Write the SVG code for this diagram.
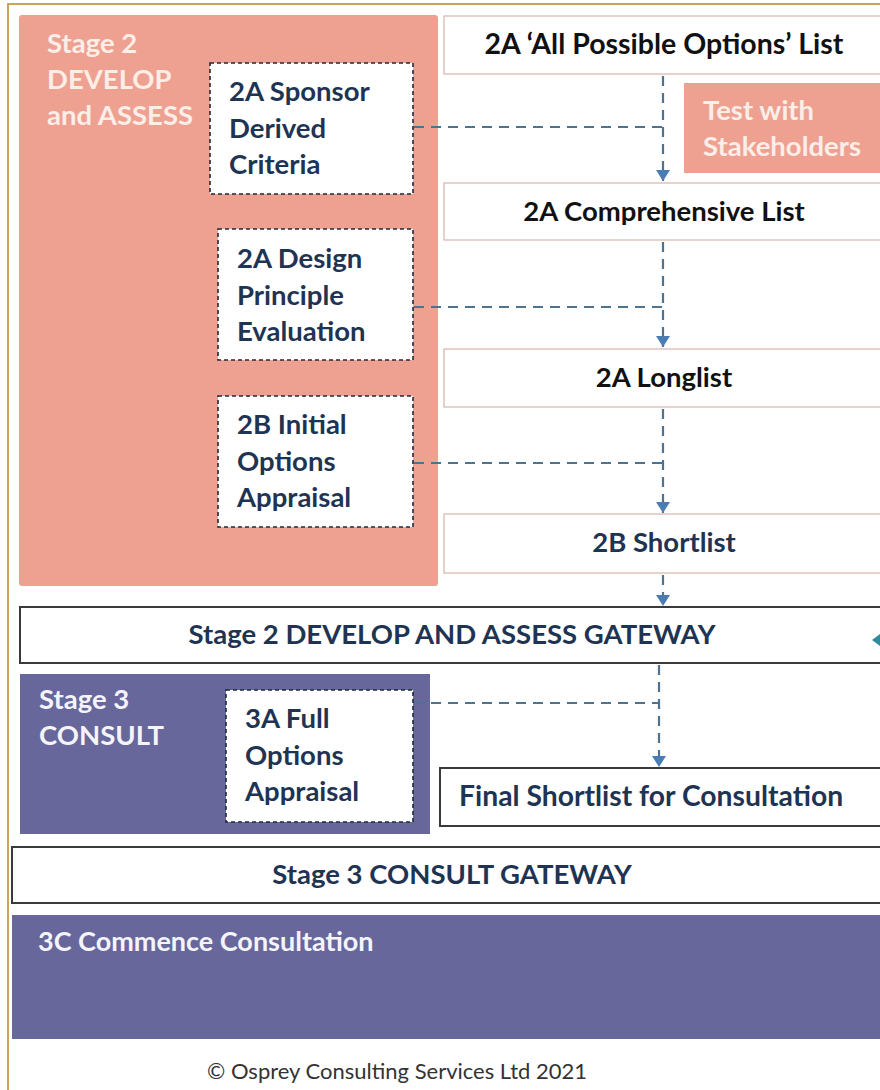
<svg xmlns="http://www.w3.org/2000/svg" width="880" height="1090" viewBox="0 0 880 1090">
<style>
.bg{fill:#ffffff}
.frame{fill:none;stroke:#C9A45A;stroke-width:2}
.salmon{fill:#EEA191}
.purple{fill:#67679B}
.dbox{fill:#ffffff;stroke:#1E2A3A;stroke-width:1.6;stroke-dasharray:4 3}
.list{fill:#ffffff;stroke:#D8B4AC;stroke-width:1.2}
.gate{fill:#ffffff;stroke:#3A3A3A;stroke-width:2}
.t{font-family:Lato,"Liberation Sans",sans-serif;font-weight:bold;font-size:27.5px}
.w{fill:#FBEDE8}
.wp{fill:#F4F4FA}
.n{fill:#1F3452}
.k{fill:#111111}
.c{text-anchor:middle}
.conn{fill:none;stroke:#4E7391;stroke-width:2.2;stroke-dasharray:10 7}
.head{fill:#4A7DB4}
</style>
<defs>
<marker id="arr" viewBox="0 0 11 14" refX="11" refY="7" markerWidth="11" markerHeight="14" markerUnits="userSpaceOnUse" orient="auto">
<path d="M0,0 L11,7 L0,14 Z" class="head"/>
</marker>
</defs>
<rect class="bg" x="0" y="0" width="880" height="1090"/>
<path class="frame" d="M8,1090 L8,4 L880,4"/>

<g id="stage2">
<rect class="salmon" x="19" y="15" width="419" height="571" rx="3"/>
<text class="t w" x="47" y="53">Stage 2</text>
<text class="t w" x="47" y="89">DEVELOP</text>
<text class="t w" x="47" y="125">and ASSESS</text>
</g>

<g id="sponsor">
<rect class="dbox" x="210" y="63" width="203" height="131"/>
<text class="t n" x="229" y="101">2A Sponsor</text>
<text class="t n" x="229" y="138">Derived</text>
<text class="t n" x="229" y="174">Criteria</text>
</g>

<g id="design">
<rect class="dbox" x="218" y="229" width="195" height="131"/>
<text class="t n" x="237" y="268">2A Design</text>
<text class="t n" x="237" y="305">Principle</text>
<text class="t n" x="237" y="341">Evaluation</text>
</g>

<g id="initial">
<rect class="dbox" x="218" y="396" width="195" height="131"/>
<text class="t n" x="237" y="434">2B Initial</text>
<text class="t n" x="237" y="471">Options</text>
<text class="t n" x="237" y="507">Appraisal</text>
</g>

<g id="allpossible">
<rect class="list" x="444" y="16" width="440" height="58"/>
<text class="t k c" x="664" y="54" style="font-size:28.5px">2A ‘All Possible Options’ List</text>
</g>

<g id="test">
<rect class="salmon" x="684" y="83" width="200" height="90"/>
<text class="t w" x="703" y="120">Test with</text>
<text class="t w" x="703" y="156">Stakeholders</text>
</g>

<g id="comprehensive">
<rect class="list" x="444" y="183" width="440" height="57"/>
<text class="t k c" x="664" y="221">2A Comprehensive List</text>
</g>

<g id="longlist">
<rect class="list" x="444" y="349" width="440" height="58"/>
<text class="t k c" x="664" y="387">2A Longlist</text>
</g>

<g id="shortlist">
<rect class="list" x="444" y="514" width="440" height="59"/>
<text class="t n c" x="664" y="552">2B Shortlist</text>
</g>

<g id="gateway2">
<rect class="gate" x="20" y="607" width="866" height="56"/>
<text class="t n c" x="452" y="644">Stage 2 DEVELOP AND ASSESS GATEWAY</text>
<path d="M872,640 L880,634 L880,646 Z" fill="#2E8A9C"/>
</g>

<g id="stage3">
<rect class="purple" x="20" y="674" width="410" height="160"/>
<text class="t wp" x="39" y="709">Stage 3</text>
<text class="t wp" x="39" y="745">CONSULT</text>
</g>

<g id="fullappraisal">
<rect class="dbox" x="226" y="690" width="187" height="132"/>
<text class="t n" x="245" y="728">3A Full</text>
<text class="t n" x="245" y="765">Options</text>
<text class="t n" x="245" y="801">Appraisal</text>
</g>

<g id="finalshortlist">
<rect class="gate" x="440" y="768" width="446" height="58"/>
<text class="t n" x="459" y="806" style="font-size:28.3px">Final Shortlist for Consultation</text>
</g>

<g id="gateway3">
<rect class="gate" x="12" y="847" width="874" height="56"/>
<text class="t n c" x="452" y="884">Stage 3 CONSULT GATEWAY</text>
</g>

<g id="commence">
<rect class="purple" x="12" y="915" width="874" height="124"/>
<text class="t wp" x="38" y="951" style="font-size:27px">3C Commence Consultation</text>
</g>

<text x="207" y="1079" style="font-family:Lato,'Liberation Sans',sans-serif;font-size:22px;fill:#333333">© Osprey Consulting Services Ltd 2021</text>

<g id="connectors">
<path class="conn" d="M663,76 L663,181" marker-end="url(#arr)"/>
<path class="conn" d="M414,127 L663,127"/>
<path class="conn" d="M663,242 L663,347" marker-end="url(#arr)"/>
<path class="conn" d="M414,307 L663,307"/>
<path class="conn" d="M663,409 L663,513" marker-end="url(#arr)"/>
<path class="conn" d="M414,463 L663,463"/>
<path class="conn" d="M663,575 L663,606" marker-end="url(#arr)"/>
<path class="conn" d="M659,665 L659,767" marker-end="url(#arr)"/>
<path class="conn" d="M414,703 L659,703"/>
</g>
</svg>
